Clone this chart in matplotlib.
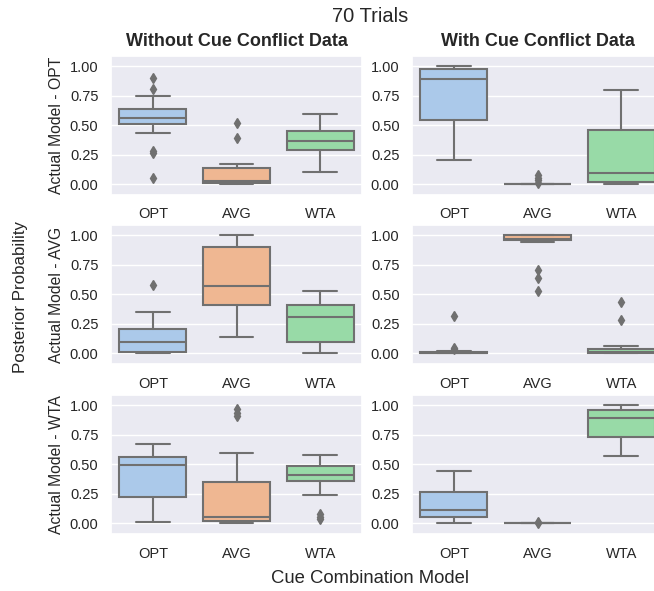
import matplotlib
matplotlib.use('Agg')
import matplotlib.pyplot as plt
import seaborn as sns

models = ['OPT', 'AVG', 'WTA']
conditions = ['Without Cue Conflict Data', 'With Cue Conflict Data']
row_labels = ['Actual Model - OPT', 'Actual Model - AVG', 'Actual Model - WTA']

# box statistics: [row][col][box] ; rows = actual model, cols = condition
q1 = [[[0.507, 0.008, 0.290], [0.541, 0.0, 0.014]],
      [[0.008, 0.409, 0.094], [0.0, 0.956, 0.0]],
      [[0.219, 0.017, 0.352], [0.048, 0.0, 0.732]]]
med = [[[0.563, 0.028, 0.363], [0.888, 0.0, 0.095]],
       [[0.094, 0.568, 0.307], [0.003, 0.970, 0.012]],
       [[0.494, 0.054, 0.409], [0.110, 0.0, 0.893]]]
q3 = [[[0.634, 0.135, 0.453], [0.972, 0.0, 0.459]],
      [[0.207, 0.898, 0.409], [0.012, 0.997, 0.037]],
      [[0.562, 0.347, 0.483], [0.266, 0.0, 0.955]]]
whislo = [[[0.431, 0.0, 0.101], [0.205, 0.0, 0.0]],
          [[0.0, 0.136, 0.0], [0.0, 0.940, 0.0]],
          [[0.011, 0.0, 0.239], [0.0, 0.0, 0.568]]]
whishi = [[[0.749, 0.172, 0.594], [1.0, 0.0, 0.797]],
          [[0.349, 1.0, 0.523], [0.020, 1.0, 0.057]],
          [[0.668, 0.591, 0.574], [0.438, 0.0, 1.0]]]
fliers = [[[[0.896, 0.806, 0.276, 0.262, 0.050], [0.516, 0.394], []],
           [[], [0.079, 0.050, 0.030, 0.010], []]],
          [[[0.580], [], []],
           [[0.310, 0.045, 0.030], [0.700, 0.637, 0.524], [0.436, 0.278]]],
          [[[], [0.970, 0.935, 0.910], [0.075, 0.050, 0.030]],
           [[], [0.006, 0.001], []]]]

sns.set_theme(style='darkgrid')
plt.rcParams['font.family'] = ['Liberation Sans', 'DejaVu Sans']

colors = sns.color_palette('pastel', 3, desat=0.75)
gray = '#707070'

fig = plt.figure(figsize=(6.54, 5.91), dpi=100)

lefts = [111 / 654, 412 / 654]
bottoms = [1 - 195 / 591, 1 - 364 / 591, 1 - 534 / 591]
w = 251 / 654
h = 139 / 591

for r in range(3):
    for c in range(2):
        ax = fig.add_axes([lefts[c], bottoms[r], w, h])
        stats = []
        for i in range(3):
            stats.append(dict(med=med[r][c][i], q1=q1[r][c][i], q3=q3[r][c][i],
                              whislo=whislo[r][c][i], whishi=whishi[r][c][i],
                              fliers=fliers[r][c][i]))
        bp = ax.bxp(stats, positions=range(3), widths=0.8, patch_artist=True,
                    boxprops=dict(edgecolor=gray, linewidth=1.5),
                    medianprops=dict(color=gray, linewidth=1.5),
                    whiskerprops=dict(color=gray, linewidth=1.5),
                    capprops=dict(color=gray, linewidth=1.5),
                    flierprops=dict(marker='d', markersize=5, markerfacecolor=gray,
                                    markeredgecolor=gray))
        for patch, col in zip(bp['boxes'], colors):
            patch.set_facecolor(col)
        ax.set_xlim(-0.5, 2.5)
        ax.set_ylim(-0.093, 1.085)
        ax.set_yticks([0, 0.25, 0.5, 0.75, 1.0])
        ax.set_yticklabels(['0.00', '0.25', '0.50', '0.75', '1.00'])
        ax.set_xticks(range(3))
        ax.set_xticklabels(models)
        ax.tick_params(labelsize=10.5, length=0)
        ax.tick_params(axis='y', pad=9)
        ax.tick_params(axis='x', pad=9)
        ax.grid(axis='x', visible=False)
        if c == 0:
            ax.set_ylabel(row_labels[r], fontsize=11.3, labelpad=4)
        if r == 0:
            ax.set_title(conditions[c], fontsize=13, fontweight='bold', pad=7)

fig.text(0.566, 0.972, '70 Trials', ha='center', va='center', fontsize=14.5)
fig.text(0.031, 0.498, 'Posterior Probability', ha='center', va='center',
         rotation=90, fontsize=12.2)
fig.text(0.566, 0.021, 'Cue Combination Model', ha='center', va='center', fontsize=13.3)

fig.savefig('out.png', dpi=100)
